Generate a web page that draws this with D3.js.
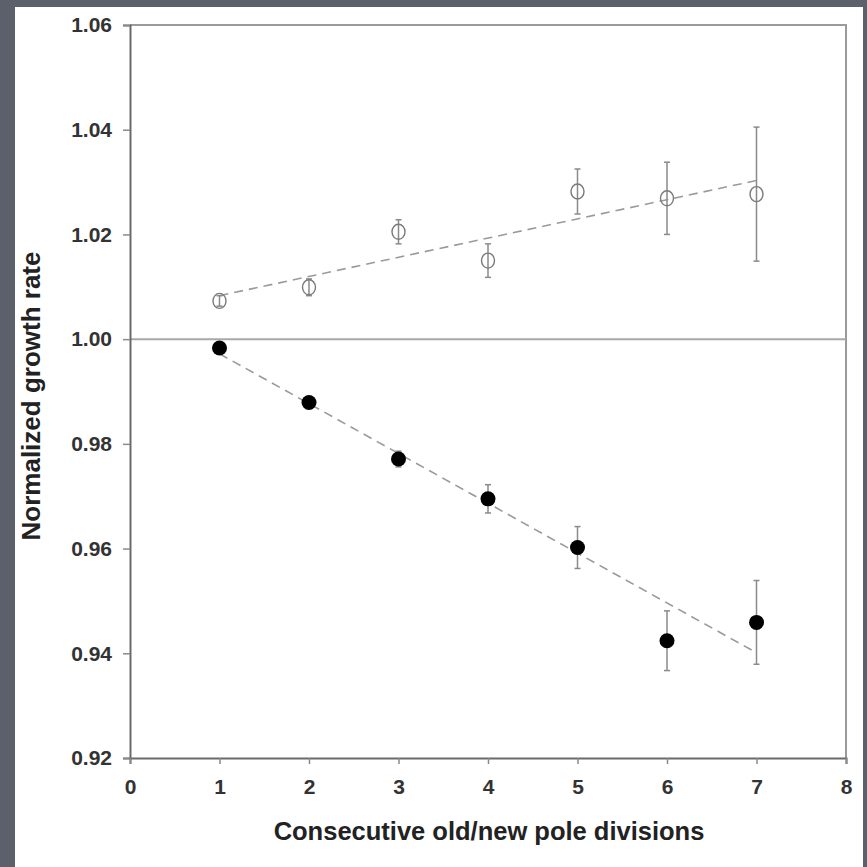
<!DOCTYPE html>
<html>
<head>
<meta charset="utf-8">
<script src="https://cdn.jsdelivr.net/npm/d3@7"></script>
<style>
  html, body { margin: 0; padding: 0; background: #5c606b; }
  svg { display: block; }
</style>
</head>
<body>
<svg id="chart" width="867" height="867"></svg>
<script>
// ---- data ----
const divisions = [1, 2, 3, 4, 5, 6, 7];
const openValues = [1.0073, 1.0099, 1.0205, 1.0150, 1.0282, 1.0269, 1.0277];
const openErrors = [0.0010, 0.0016, 0.0023, 0.0032, 0.0043, 0.0069, 0.0128];
const filledValues = [0.9983, 0.9879, 0.9771, 0.9695, 0.9602, 0.9424, 0.9459];
const filledErrors = [0.0008, 0.0010, 0.0015, 0.0027, 0.0040, 0.0057, 0.0080];
const openFit = [[1, 1.0083], [7, 1.0303]];
const filledFit = [[1, 0.9972], [7, 0.9401]];
const referenceLevel = 1.00;
const xTicks = [0, 1, 2, 3, 4, 5, 6, 7, 8];
const yTicks = [0.92, 0.94, 0.96, 0.98, 1.00, 1.02, 1.04, 1.06];
const xTitle = "Consecutive old/new pole divisions";
const yTitle = "Normalized growth rate";

// ---- layout ----
const svg = d3.select("#chart");
const L = 130, R = 846, T = 25, B = 758;

svg.append("rect").attr("x", 15).attr("y", 7).attr("width", 848).attr("height", 860).attr("fill", "#ffffff");

const x = d3.scaleLinear().domain([0, 8]).range([L, R]);
const y = d3.scaleLinear().domain([0.92, 1.06]).range([B, T]);

// frame top/right
svg.append("path")
  .attr("d", `M${L},${T}H${R}V${B}`)
  .attr("fill", "none").attr("stroke", "#9a9a9a").attr("stroke-width", 2);

// reference line at 1.00
svg.append("line")
  .attr("x1", L).attr("x2", R)
  .attr("y1", y(referenceLevel)).attr("y2", y(referenceLevel))
  .attr("stroke", "#a8a8a8").attr("stroke-width", 2);

// axes
const font = "'Liberation Sans', Arial, sans-serif";
const yAxis = svg.append("g").attr("transform", `translate(${L},0)`)
  .call(d3.axisLeft(y).tickValues(yTicks).tickFormat(d3.format(".2f")).tickSize(7).tickPadding(11));
const xAxis = svg.append("g").attr("transform", `translate(0,${B})`)
  .call(d3.axisBottom(x).tickValues(xTicks).tickFormat(d3.format("d")).tickSize(6).tickPadding(12));
[yAxis, xAxis].forEach(g => {
  g.select(".domain").attr("stroke", "#6a6a6a").attr("stroke-width", 2);
  g.selectAll(".tick line").attr("stroke", "#8a8a8a").attr("stroke-width", 1.5);
  g.selectAll(".tick text").attr("fill", "#333").attr("font-family", font)
    .attr("font-size", 21).attr("font-weight", "bold");
});
xAxis.selectAll(".tick text").attr("dy", "0.85em");

// titles
svg.append("text").attr("x", (L + R) / 2 + 1).attr("y", 840)
  .attr("text-anchor", "middle").attr("font-family", font).attr("font-size", 25.5)
  .attr("font-weight", "bold").attr("fill", "#222").text(xTitle);
svg.append("text").attr("transform", `translate(40,396) rotate(-90)`)
  .attr("text-anchor", "middle").attr("font-family", font).attr("font-size", 26)
  .attr("font-weight", "bold").attr("fill", "#222").text(yTitle);

// fit lines
const line = d3.line().x(d => x(d[0])).y(d => y(d[1]));
[openFit, filledFit].forEach(f => {
  svg.append("path").attr("d", line(f)).attr("fill", "none")
    .attr("stroke", "#9a9a9a").attr("stroke-width", 1.6).attr("stroke-dasharray", "9,6");
});

// error bars
function errorBars(vals, errs) {
  const g = svg.append("g").attr("stroke", "#8a8a8a").attr("stroke-width", 1.5);
  divisions.forEach((d, i) => {
    const cx = x(d), y1 = y(vals[i] + errs[i]), y2 = y(vals[i] - errs[i]);
    g.append("line").attr("x1", cx).attr("x2", cx).attr("y1", y1).attr("y2", y2);
    g.append("line").attr("x1", cx - 3).attr("x2", cx + 3).attr("y1", y1).attr("y2", y1);
    g.append("line").attr("x1", cx - 3).attr("x2", cx + 3).attr("y1", y2).attr("y2", y2);
  });
}
errorBars(openValues, openErrors);
errorBars(filledValues, filledErrors);

// markers
svg.append("g").selectAll("ellipse").data(divisions).join("ellipse")
  .attr("cx", d => x(d)).attr("cy", (d, i) => y(openValues[i]))
  .attr("rx", 6.5).attr("ry", 7.5)
  .attr("fill", "none").attr("stroke", "#7a7a7a").attr("stroke-width", 1.4);
svg.append("g").selectAll("circle").data(divisions).join("circle")
  .attr("cx", d => x(d)).attr("cy", (d, i) => y(filledValues[i]))
  .attr("r", 7.5).attr("fill", "#000");
</script>
</body>
</html>
